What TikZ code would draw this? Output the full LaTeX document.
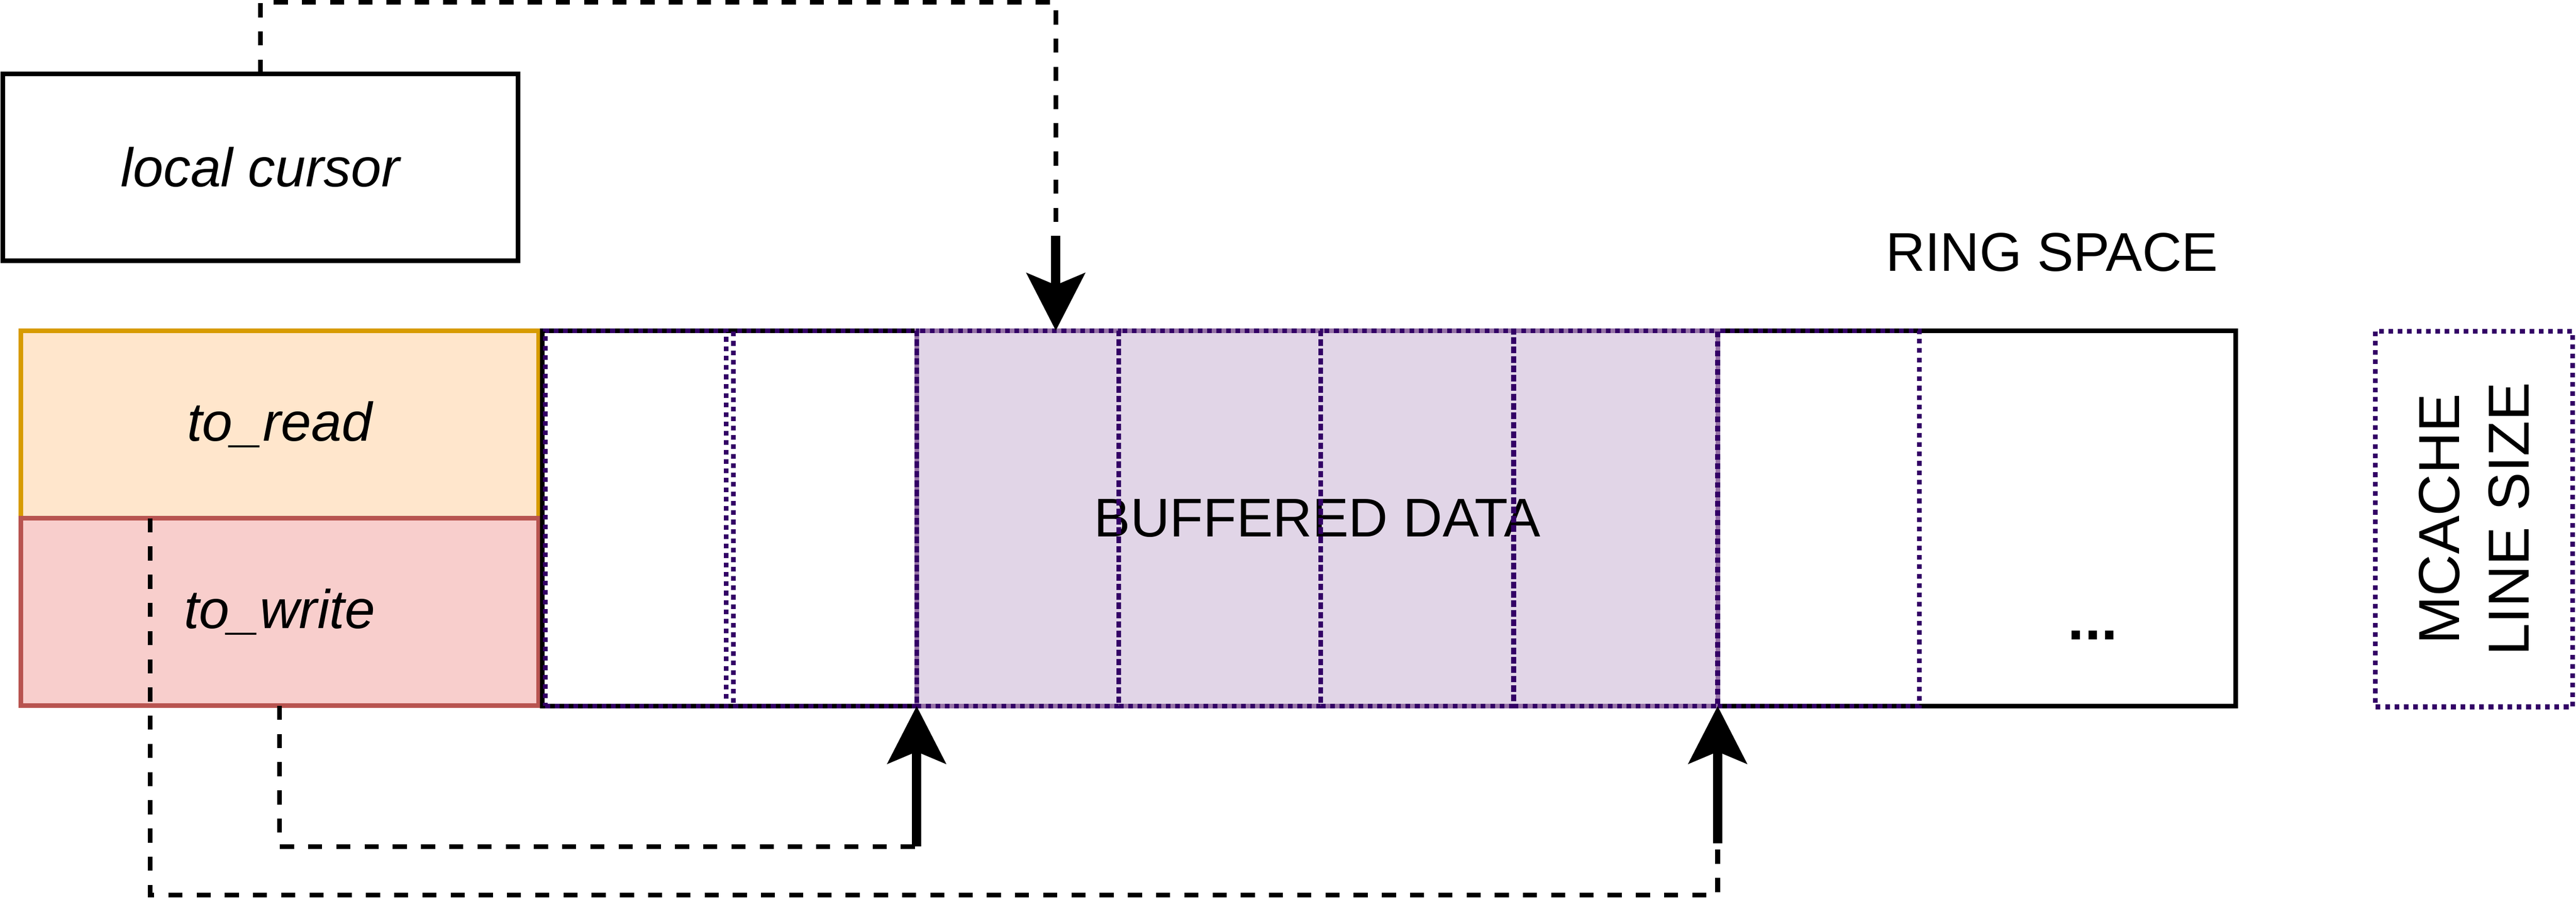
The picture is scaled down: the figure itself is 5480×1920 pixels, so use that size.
\documentclass[tikz,border=0pt]{standalone}
\usepackage{fontspec}
\setmainfont{Liberation Sans}
\usepackage{tikz}
\usetikzlibrary{positioning, calc, fit, arrows.meta}

\definecolor{readfill}{HTML}{FFE6CC}
\definecolor{readline}{HTML}{D79B00}
\definecolor{writefill}{HTML}{F8CECC}
\definecolor{writeline}{HTML}{B85450}
\definecolor{buffill}{HTML}{E1D5E7}
\definecolor{bufline}{HTML}{9673A6}
\definecolor{cacheline}{HTML}{330066}

\begin{document}
\begin{tikzpicture}[
  x=0.01cm, y=-0.01cm,
  every node/.style={font=\fontsize{33}{40}\selectfont, align=center, outer sep=0pt, inner sep=0pt},
  plainbox/.style={rectangle, draw, line width=0.1cm},
  cursorbox/.style={plainbox, minimum width=10.96cm, minimum height=3.98cm, font=\fontsize{33}{40}\selectfont\itshape},
  readbox/.style={plainbox, draw=readline, fill=readfill, minimum width=11.01cm, minimum height=3.99cm, font=\fontsize{33}{40}\selectfont\itshape},
  writebox/.style={readbox, draw=writeline, fill=writefill},
  ringbox/.style={plainbox, fill=white, minimum width=36cm, minimum height=7.99cm},
  bufbox/.style={plainbox, draw=bufline, fill=buffill, minimum width=17.04cm, minimum height=7.99cm},
  cellbox/.style={rectangle, draw=cacheline, line width=0.1cm, dash pattern=on 0.1cm off 0.1cm},
  pointer/.style={draw, line width=0.1cm, dash pattern=on 0.3cm off 0.3cm},
  jump/.style={draw, line width=0.2cm, -{Stealth[length=1.22cm, width=1.23cm, inset=0.25cm]}}
]
\useasboundingbox (0,0) rectangle (5480,1920);

% cursor and the two counters
\node[cursorbox] (cursor) at (554,356) {local cursor};
\node[readbox, anchor=north west] (read) at (44,704) {to\_read};
\node[writebox, below=0pt of read] (write) {to\_write};

% ring with its cache lines
\node[ringbox, anchor=north west] (ring) at (1154,704) {};
\node[bufbox, anchor=north west] (buf) at (1950,704) {BUFFERED DATA};
\foreach \a/\b [count=\i] in {1160/1545, 1560/1950, 1950/2380, 2380/2810, 2810/3220, 3220/3654, 3654/4083}
  \node[cellbox, fit={(\a,704) (\b,1503)}] (cell\i) {};
\node (dots) at (4452,1352) {\bfseries\fontsize{36}{40}\selectfont ...};
\node (ringlabel) at (4365,537) {RING SPACE};
\node[cellbox, rotate=90, minimum width=7.99cm, minimum height=4.2cm, font=\fontsize{35}{42}\selectfont] (mcache) at (5263,1105) {MCACHE\\LINE SIZE};

% pointers
\coordinate (curtop) at (2246,5);
\coordinate (curend) at (2246,502);
\coordinate (writeend) at ($(cell3.south west)+(0,299)$);
\coordinate (readlow) at ($(cell7.south west)+(0,402)$);
\coordinate (readend) at ($(cell7.south west)+(0,292)$);

\draw[pointer] (cursor.north) |- (curtop) -- (curend);
\draw[jump] (curend) -- (curend |- ring.north);
\draw[pointer] (write.south) |- (writeend);
\draw[jump] (writeend) -- (cell3.south west);
\draw[pointer] ($(read.south west)!0.25!(read.south east)$) |- (readlow) -- (readend);
\draw[jump] (readend) -- (cell7.south west);

\end{tikzpicture}
\end{document}
